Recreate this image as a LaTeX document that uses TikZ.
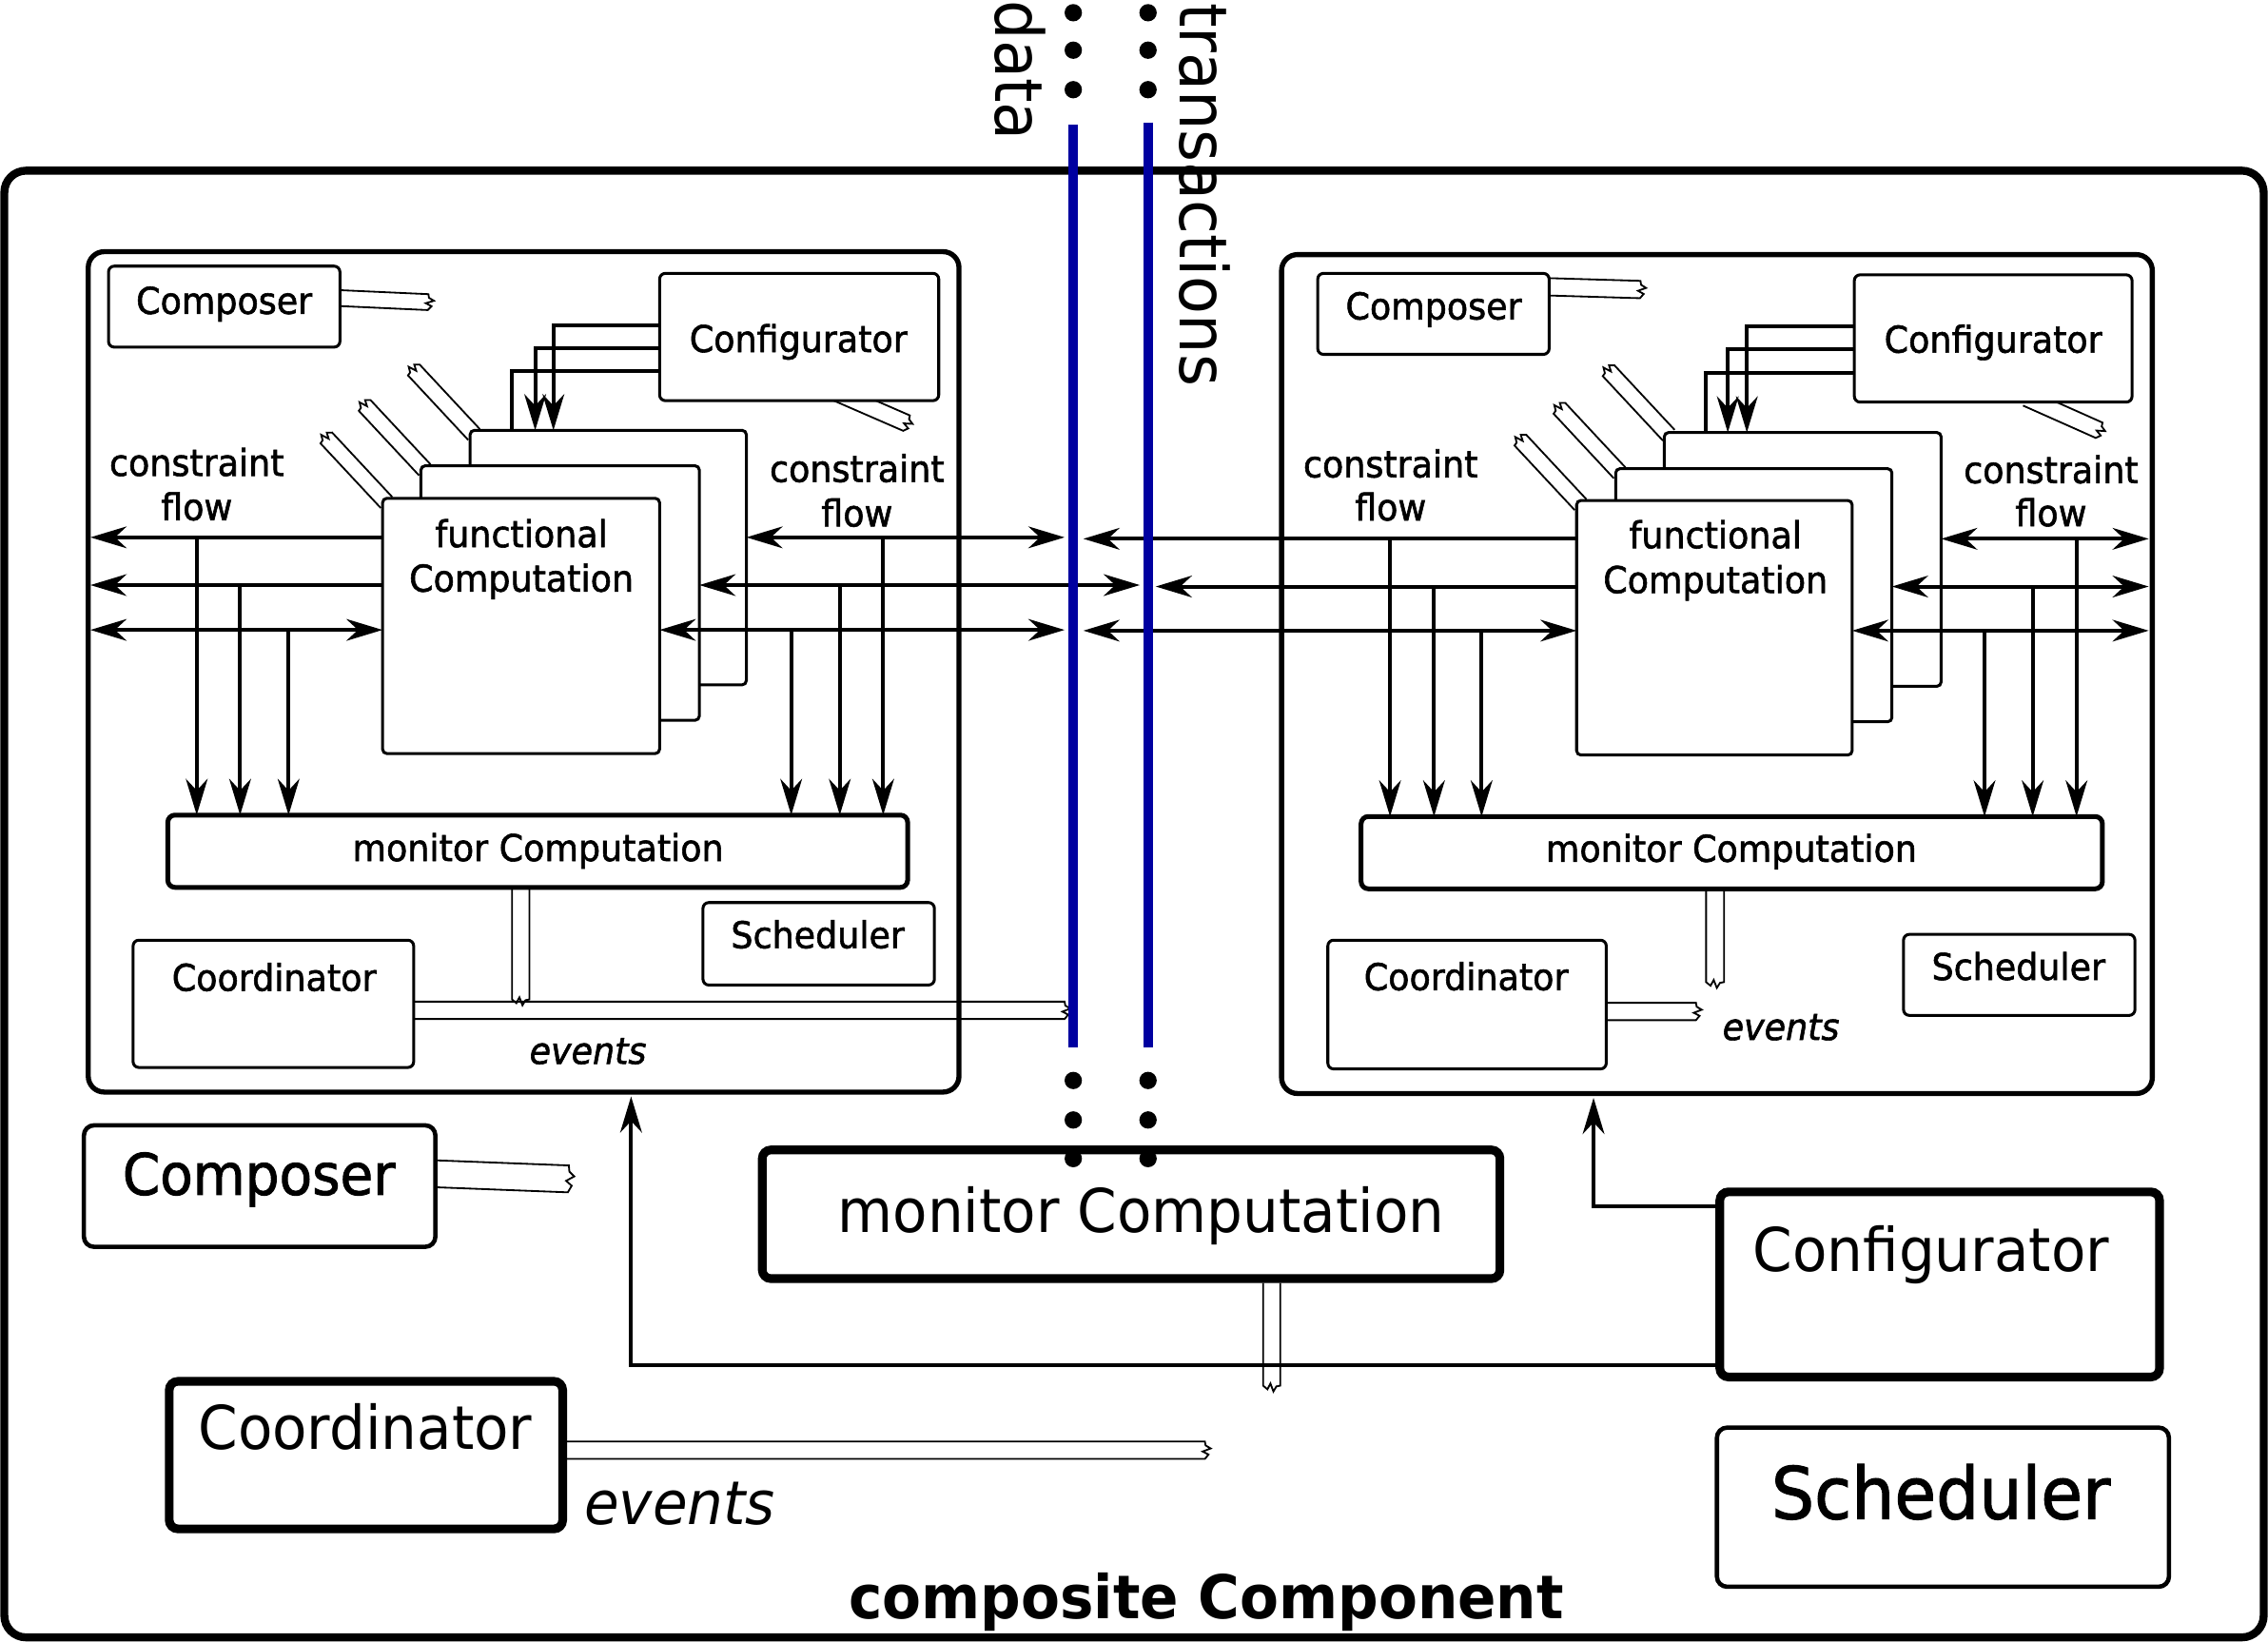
\documentclass[tikz,border=0pt]{standalone}
\usepackage{fontspec}
\setmainfont{DejaVu Sans}[FakeStretch=0.94]
\newfontfamily\sbf{DejaVu Sans}[FakeStretch=0.94,FakeBold=1.5]
\usetikzlibrary{arrows.meta}
\definecolor{dtblue}{RGB}{0,0,160}
\newcommand\bx[6]{\node[#1, anchor=north west, minimum width={#5-#3}, minimum height={#6-#4}] (#2) at (#3,#4) {};}
\newcommand\ribn[4]{%
  \begin{scope}[shift={#1}, rotate=#2]
    \draw[rib] (0,#4) -- (#3,#4) -- ({#3+2.5},{0.5*#4}) -- ({#3-1.5},{0.15*#4}) -- ({#3+4},{-0.2*#4}) -- ({#3+0.5},{-0.55*#4}) -- (#3,-#4) -- (0,-#4);
  \end{scope}}
\begin{document}
\begin{tikzpicture}[x=1pt,y=-1pt,
  every node/.style={inner sep=0pt, outer sep=0pt},
  outerbox/.style={draw, line width=5.5pt, rounded corners=15pt},
  innerbox/.style={draw, line width=3.5pt, rounded corners=11pt},
  smallbox/.style={draw, fill=white, line width=2pt, rounded corners=4pt},
  funcbox/.style={draw, fill=white, line width=2pt, rounded corners=3pt},
  monbox/.style={draw, fill=white, line width=3.3pt, rounded corners=5pt},
  thickbox/.style={draw, fill=white, line width=6pt, rounded corners=6pt},
  thinbig/.style={draw, fill=white, line width=3pt, rounded corners=7pt},
  rib/.style={line width=1.2pt, line join=miter},
  tip/.tip={Stealth[length=25pt,width=15pt,inset=8pt]},
  arr/.style={line width=2.6pt, -tip},
  darr/.style={line width=2.6pt, tip-tip},
  plain/.style={line width=2.6pt},
  bus/.style={draw=dtblue, line width=6.6pt},
  lab/.style={anchor=base},
  f24/.style={font=\sbf\fontsize{25.5}{30}\selectfont},
  f42/.style={font=\fontsize{41.7}{48}\selectfont},
  f46/.style={font=\fontsize{45.7}{52}\selectfont},
]
\useasboundingbox (0,0) rectangle (1568,1134.6);

% ---------- frames ----------
\bx{outerbox}{outer}{3}{118}{1565}{1132}
\bx{innerbox}{innerL}{61}{174}{663}{755}
\bx{innerbox}{innerR}{886}{176}{1488}{756}

% ---------- ribbons under boxes ----------
\ribn{(235,206.1)}{-2.6}{61}{5.5}
\ribn{(1071,198.3)}{-1.7}{63}{6}
\ribn{(576.3,270.6)}{-23.5}{55}{5.8}
\ribn{(1401,275.1)}{-24}{55}{5.8}
\ribn{(267.2,347.4)}{133}{61}{5.5}
\ribn{(293.7,324.9)}{133}{61}{5.5}
\ribn{(327.7,300.4)}{133}{61}{5.5}
\ribn{(1092.7,348.9)}{133}{61}{5.5}
\ribn{(1119.7,326.9)}{133}{61}{5.5}
\ribn{(1153.7,300.9)}{133}{61}{5.5}
\ribn{(360,614)}{-90}{77}{6}
\ribn{(1185.7,616)}{-90}{63}{6.2}
\ribn{(286,698.5)}{0}{450}{6}
\ribn{(1110.5,699.3)}{0}{62}{6}
\ribn{(301,811.5)}{-2.2}{92}{9.3}
\ribn{(879.2,887)}{-90}{71}{5.9}
\ribn{(389,1002.6)}{0}{444}{6}

% ---------- left component ----------
\bx{funcbox}{fbL}{325}{297.5}{516}{473.5}
\bx{funcbox}{fmL}{291}{322}{483.5}{498}
\bx{funcbox}{ffL}{264.5}{344.5}{456}{521}
\bx{smallbox}{compL}{75}{184}{235}{240}
\bx{smallbox}{confL}{456}{189}{649}{277}
\bx{monbox}{monL}{116}{563.5}{627.5}{613.5}
\bx{smallbox}{schedL}{486}{624}{646}{681}
\bx{smallbox}{coordL}{92}{650}{286}{738}

% ---------- right component ----------
\bx{funcbox}{fbR}{1150.6}{299}{1342}{474.5}
\bx{funcbox}{fmR}{1117}{324}{1308}{499}
\bx{funcbox}{ffR}{1090}{346}{1280.5}{522}
\bx{smallbox}{compR}{911}{189}{1071}{245}
\bx{smallbox}{confR}{1282}{190}{1474}{278}
\bx{monbox}{monR}{941}{564.5}{1453.5}{614.5}
\bx{smallbox}{schedR}{1316}{646}{1476}{702}
\bx{smallbox}{coordR}{918}{650}{1110.5}{739}

% ---------- composite level ----------
\bx{thinbig}{compBig}{58}{778}{301}{862}
\bx{thickbox}{monBig}{527}{795}{1037}{884}
\bx{thickbox}{confBig}{1189}{824}{1493}{952}
\bx{thickbox}{coordBig}{117}{955}{389}{1057}
\bx{thinbig}{schedBig}{1187}{987}{1499.5}{1097}

% ---------- configurator links (left) ----------
\draw[arr] (confL.west |- 0,224.7) -| (fbL.north -| 382.6,0);
\draw[arr] (confL.west |- 0,240.7) -| (fbL.north -| 370,0);
\draw[plain] (confL.west |- 0,256.5) -| (fbL.north -| 354,0);
% ---------- configurator links (right) ----------
\draw[arr] (confR.west |- 0,225.8) -| (fbR.north -| 1207.7,0);
\draw[arr] (confR.west |- 0,241.2) -| (fbR.north -| 1194.5,0);
\draw[plain] (confR.west |- 0,257.6) -| (fbR.north -| 1179.5,0);

% free ends near the buses
\coordinate (dA1) at (736,371.5);
\coordinate (dA2) at (788,404.5);
\coordinate (dA3) at (736,435.5);
\coordinate (dB1) at (749,372.5);
\coordinate (dB2) at (799,405.5);
\coordinate (dB3) at (749,436);

% ---------- constraint flow, left component ----------
\draw[arr, shorten >=1.5pt] (ffL.west |- 0,371.5) -- (innerL.west |- 0,371.5);
\draw[arr, shorten >=1.5pt] (ffL.west |- 0,404.5) -- (innerL.west |- 0,404.5);
\draw[darr, shorten <=1.5pt] (innerL.west |- 0,435.5) -- (ffL.west |- 0,435.5);
\draw[darr] (fbL.east |- 0,371.5) -- (dA1);
\draw[darr] (fmL.east |- 0,404.5) -- (dA2);
\draw[darr] (ffL.east |- 0,435.5) -- (dA3);
\draw[arr] (136,371.5) -- (monL.north -| 136,0);
\draw[arr] (166,404.5) -- (monL.north -| 166,0);
\draw[arr] (199.5,435.5) -- (monL.north -| 199.5,0);
\draw[arr] (547,435.5) -- (monL.north -| 547,0);
\draw[arr] (580.6,404.5) -- (monL.north -| 580.6,0);
\draw[arr] (610.6,371.5) -- (monL.north -| 610.6,0);

% ---------- constraint flow, right component ----------
\draw[arr] (ffR.west |- 0,372.5) -- (dB1);
\draw[arr] (ffR.west |- 0,405.5) -- (dB2);
\draw[darr] (dB3) -- (ffR.west |- 0,436);
\draw[darr, shorten >=2.5pt] (fbR.east |- 0,372.5) -- (innerR.east |- 0,372.5);
\draw[darr, shorten >=2.5pt] (fmR.east |- 0,405.5) -- (innerR.east |- 0,405.5);
\draw[darr, shorten >=2.5pt] (ffR.east |- 0,436) -- (innerR.east |- 0,436);
\draw[arr] (961,372.5) -- (monR.north -| 961,0);
\draw[arr] (991.4,405.5) -- (monR.north -| 991.4,0);
\draw[arr] (1024.3,436) -- (monR.north -| 1024.3,0);
\draw[arr] (1372,436) -- (monR.north -| 1372,0);
\draw[arr] (1405.3,405.5) -- (monR.north -| 1405.3,0);
\draw[arr] (1435.6,372.5) -- (monR.north -| 1435.6,0);

% ---------- composite configurator ----------
\draw[arr, shorten >=3pt] (confBig.west |- 0,834) -| (innerR.south -| 1101.7,0);
\draw[arr, shorten >=3pt] (confBig.west |- 0,944) -| (innerL.south -| 436.3,0);

% ---------- buses ----------
\coordinate (dataTop) at (742,86);
\coordinate (dataBot) at (742,724);
\coordinate (trTop) at (793.7,84.6);
\coordinate (trBot) at (793.7,724);
\draw[bus] (dataTop) -- (dataBot);
\draw[bus] (trTop) -- (trBot);
\foreach \yy in {8.8,34.7,62,747,774.3,801} {
  \fill (742,\yy) circle (6pt);
  \fill (793.7,\yy) circle (6pt);
}
\node[f46, rotate=-90, anchor=base west] (datalab) at (688.4,0.5) {data};
\node[f46, rotate=-90, anchor=base west] (translab) at (815.6,2) {transactions};

% ---------- texts, left component ----------
\node[lab,f24] (compLt) at (155,217) {Composer};
\node[lab,f24] (confLt) at (552,243.4) {Configurator};
\node[lab,f24] (fLt1) at (360.5,378.3) {functional};
\node[lab,f24] (fLt2) at (360.5,409) {Computation};
\node[lab,f24] (cfL1) at (136,329) {constraint};
\node[lab,f24] (cfL2) at (136,359.6) {flow};
\node[lab,f24] (cfL3) at (592.5,333.2) {constraint};
\node[lab,f24] (cfL4) at (592.5,364) {flow};
\node[lab,f24] (monLt) at (372,595.3) {monitor Computation};
\node[lab,f24] (schedLt) at (565.4,655.5) {Scheduler};
\node[lab,f24] (coordLt) at (189.5,685) {Coordinator};
\node[lab,f24] (evLt) at (406.5,735.5) {\itshape events};

% ---------- texts, right component ----------
\node[lab,f24] (compRt) at (991.2,220.8) {Composer};
\node[lab,f24] (confRt) at (1378,243.8) {Configurator};
\node[lab,f24] (fRt1) at (1186,379) {functional};
\node[lab,f24] (fRt2) at (1186,410) {Computation};
\node[lab,f24] (cfR1) at (961.4,330) {constraint};
\node[lab,f24] (cfR2) at (961.4,359.8) {flow};
\node[lab,f24] (cfR3) at (1418,334) {constraint};
\node[lab,f24] (cfR4) at (1418,363.8) {flow};
\node[lab,f24] (monRt) at (1197,595.8) {monitor Computation};
\node[lab,f24] (schedRt) at (1395.5,677.5) {Scheduler};
\node[lab,f24] (coordRt) at (1013.6,684.5) {Coordinator};
\node[lab,f24] (evRt) at (1231.3,719) {\itshape events};

% ---------- texts, composite ----------
\node[lab, font=\sbf\fontsize{39.5}{46}\selectfont] (compBigt) at (179,826) {Composer};
\node[lab,f42] (monBigt) at (789,852) {monitor Computation};
\node[lab,f42] (confBigt) at (1335,879) {Configurator};
\node[lab,f42] (coordBigt) at (252.5,1002) {Coordinator};
\node[lab,f42] (evBigt) at (470,1054) {\itshape events};
\node[lab, font=\sbf\fontsize{49.8}{56}\selectfont] (schedBigt) at (1341.8,1050) {Scheduler};
\node[lab,f42] (compTitle) at (834,1119) {\bfseries composite Component};
\end{tikzpicture}
\end{document}
